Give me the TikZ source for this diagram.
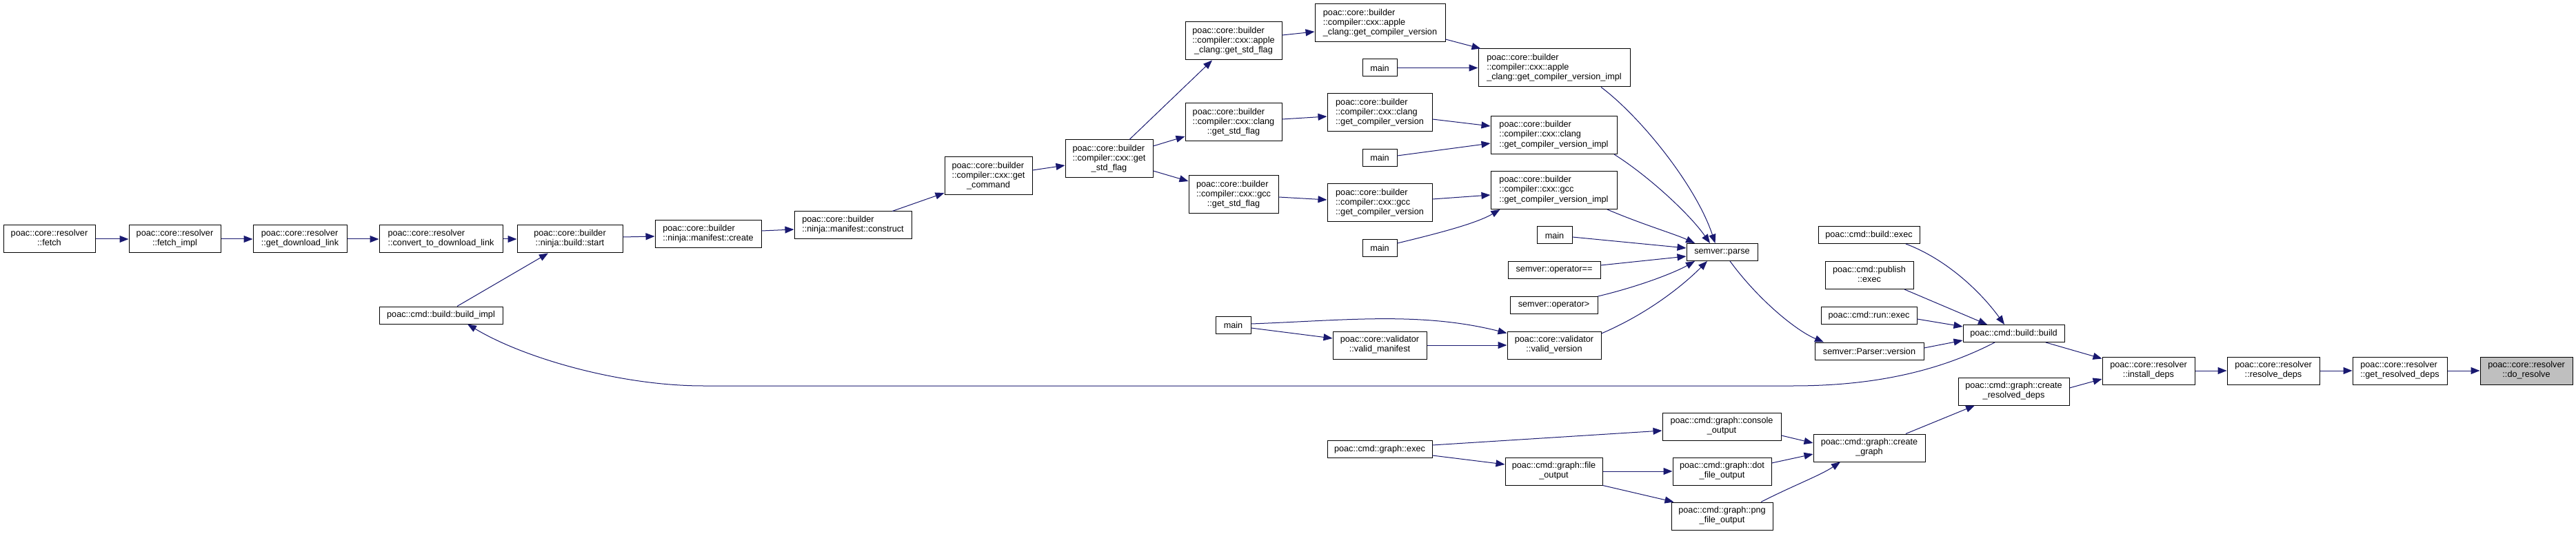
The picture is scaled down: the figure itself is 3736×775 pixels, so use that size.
\documentclass[tikz,border=0pt]{standalone}
\usepackage{fontspec}
\setmainfont{Liberation Sans}
\usetikzlibrary{arrows.meta}
\definecolor{edgec}{HTML}{191970}
\definecolor{hl}{HTML}{BFBFBF}
\newcommand\nfont{\fontsize{12.7}{14.2}\selectfont}
\newcommand\Lb[2]{\begin{tabular}{@{}l@{}}#1\\\multicolumn{1}{@{}c@{}}{#2}\end{tabular}}
\newcommand\Lc[3]{\begin{tabular}{@{}l@{}}#1\\#2\\\multicolumn{1}{@{}c@{}}{#3}\end{tabular}}
\begin{document}
\begin{tikzpicture}[x=1pt,y=-1pt,
  box/.style={draw=black,line width=1pt,fill=white,inner sep=0pt,font=\nfont},
  wh/.style 2 args={minimum width=#1pt,minimum height=#2pt},
  conn/.style={draw=edgec,line width=1pt,-{Triangle[length=13pt,width=10pt]}}]
\fill[white] (0,0) rectangle (3736,775);
\useasboundingbox (0,0) rectangle (3736,775);
% resolver chain
\node[box,wh={133}{40}] (fetch) at (71.5,347) {\Lb{poac::core::resolver}{::fetch}};
\node[box,wh={133}{40}] (fetchimpl) at (253.5,347) {\Lb{poac::core::resolver}{::fetch\_impl}};
\node[box,wh={136}{40}] (getdl) at (435,347) {\Lb{poac::core::resolver}{::get\_download\_link}};
\node[box,wh={179}{40}] (convert) at (639.5,347) {\Lb{poac::core::resolver}{::convert\_to\_download\_link}};
\node[box,wh={153}{40}] (start) at (826.5,347) {\Lb{poac::core::builder}{::ninja::build::start}};
\node[box,wh={179}{25}] (buildimpl) at (639.5,457.5) {poac::cmd::build::build\_impl};
\node[box,wh={154}{40}] (create) at (1027,340) {\Lb{poac::core::builder}{::ninja::manifest::create}};
\node[box,wh={170}{40}] (construct) at (1237,327) {\Lb{poac::core::builder}{::ninja::manifest::construct}};
\node[box,wh={127}{55}] (getcommand) at (1433.5,255.5) {\Lc{poac::core::builder}{::compiler::cxx::get}{\_command}};
\node[box,wh={127}{55}] (getstdflag) at (1608.5,230.5) {\Lc{poac::core::builder}{::compiler::cxx::get}{\_std\_flag}};
% compilers
\node[box,wh={140}{55}] (applestd) at (1789,59.5) {\Lc{poac::core::builder}{::compiler::cxx::apple}{\_clang::get\_std\_flag}};
\node[box,wh={189}{55}] (applegcv) at (2001.5,33.5) {\Lc{poac::core::builder}{::compiler::cxx::apple}{\_clang::get\_compiler\_version}};
\node[box,wh={50}{25}] (main1) at (2001,98.5) {main};
\node[box,wh={220}{55}] (appleimpl) at (2254,98.5) {\Lc{poac::core::builder}{::compiler::cxx::apple}{\_clang::get\_compiler\_version\_impl}};
\node[box,wh={140}{55}] (clangstd) at (1789,177.5) {\Lc{poac::core::builder}{::compiler::cxx::clang}{::get\_std\_flag}};
\node[box,wh={152}{55}] (clanggcv) at (2001,163.5) {\Lc{poac::core::builder}{::compiler::cxx::clang}{::get\_compiler\_version}};
\node[box,wh={183}{55}] (clangimpl) at (2253.5,196) {\Lc{poac::core::builder}{::compiler::cxx::clang}{::get\_compiler\_version\_impl}};
\node[box,wh={50}{25}] (main2) at (2001,229) {main};
\node[box,wh={130}{55}] (gccstd) at (1789,282.5) {\Lc{poac::core::builder}{::compiler::cxx::gcc}{::get\_std\_flag}};
\node[box,wh={152}{55}] (gccgcv) at (2001,294.5) {\Lc{poac::core::builder}{::compiler::cxx::gcc}{::get\_compiler\_version}};
\node[box,wh={183}{55}] (gccimpl) at (2253.5,276) {\Lc{poac::core::builder}{::compiler::cxx::gcc}{::get\_compiler\_version\_impl}};
\node[box,wh={50}{25}] (main3) at (2001,360) {main};
\node[box,wh={51}{25}] (main4) at (2254.5,341.5) {main};
\node[box,wh={134}{25}] (opeq) at (2254,392) {semver::operator==};
\node[box,wh={127}{25}] (opgt) at (2253.5,442.5) {semver::operator>};
\node[box,wh={51}{25}] (main5) at (1788.5,472) {main};
\node[box,wh={136}{40}] (validmanifest) at (2001,501) {\Lb{poac::core::validator}{::valid\_manifest}};
\node[box,wh={136}{40}] (validversion) at (2254,501) {\Lb{poac::core::validator}{::valid\_version}};
\node[box,wh={103}{25}] (parse) at (2497.5,366) {semver::parse};
\node[box,wh={158}{25}] (parserversion) at (2711,509.5) {semver::Parser::version};
% build
\node[box,wh={147}{25}] (buildexec) at (2710.5,341) {poac::cmd::build::exec};
\node[box,wh={128}{40}] (publishexec) at (2711,399.5) {\Lb{poac::cmd::publish}{::exec}};
\node[box,wh={139}{25}] (runexec) at (2710.5,458) {poac::cmd::run::exec};
\node[box,wh={147}{25}] (buildbuild) at (2920.5,484) {poac::cmd::build::build};
\node[box,wh={134}{40}] (installdeps) at (3116,538) {\Lb{poac::core::resolver}{::install\_deps}};
\node[box,wh={134}{40}] (resolvedeps) at (3297,538) {\Lb{poac::core::resolver}{::resolve\_deps}};
\node[box,wh={137}{40}] (getresolved) at (3480.5,538) {\Lb{poac::core::resolver}{::get\_resolved\_deps}};
\node[box,wh={134}{40},fill=hl] (doresolve) at (3664,538) {\Lb{poac::core::resolver}{::do\_resolve}};
% graph
\node[box,wh={161}{40}] (createresolved) at (2920.5,568) {\Lb{poac::cmd::graph::create}{\_resolved\_deps}};
\node[box,wh={172}{40}] (consoleout) at (2497,619) {\Lb{poac::cmd::graph::console}{\_output}};
\node[box,wh={162}{40}] (creategraph) at (2711,650) {\Lb{poac::cmd::graph::create}{\_graph}};
\node[box,wh={152}{25}] (graphexec) at (2001,652) {poac::cmd::graph::exec};
\node[box,wh={141}{40}] (fileoutput) at (2253.5,684) {\Lb{poac::cmd::graph::file}{\_output}};
\node[box,wh={143}{40}] (dotfile) at (2497.5,684) {\Lb{poac::cmd::graph::dot}{\_file\_output}};
\node[box,wh={147}{40}] (pngfile) at (2497.5,749) {\Lb{poac::cmd::graph::png}{\_file\_output}};
% edges
\draw[conn] (fetch.east) -- (fetchimpl.west);
\draw[conn] (fetchimpl.east) -- (getdl.west);
\draw[conn] (getdl.east) -- (convert.west);
\draw[conn] (convert.east) -- (start.west);
\draw[conn] ([shift={(23.5,0)}]buildimpl.north) -- ([shift={(-31.5,0)}]start.south);
\draw[conn] ([shift={(0,-3)}]start.east) -- ([shift={(0,3)}]create.west);
\draw[conn] ([shift={(0,-5)}]create.east) -- ([shift={(0,6)}]construct.west);
\draw[conn] ([shift={(57,0)}]construct.north) -- ([shift={(0,24.5)}]getcommand.west);
\draw[conn] ([shift={(0,-8.5)}]getcommand.east) -- ([shift={(0,9.5)}]getstdflag.west);
\draw[conn] ([shift={(29.5,0)}]getstdflag.north) -- ([shift={(-31,0)}]applestd.south);
\draw[conn] ([shift={(0,-18.5)}]getstdflag.east) -- ([shift={(0,20.5)}]clangstd.west);
\draw[conn] ([shift={(0,17.5)}]getstdflag.east) -- ([shift={(0,-19.5)}]gccstd.west);
\draw[conn] ([shift={(0,-8.5)}]applestd.east) -- ([shift={(0,12.5)}]applegcv.west);
\draw[conn] ([shift={(0,23.5)}]applegcv.east) -- ([shift={(4,0)}]appleimpl.north west);
\draw[conn] (main1.east) -- (appleimpl.west);
\draw[conn] ([shift={(0,-4.5)}]clangstd.east) -- ([shift={(0,5.5)}]clanggcv.west);
\draw[conn] ([shift={(0,9.5)}]clanggcv.east) -- ([shift={(0,-13)}]clangimpl.west);
\draw[conn] ([shift={(0,-3)}]main2.east) -- ([shift={(0,12)}]clangimpl.west);
\draw[conn] ([shift={(0,3.5)}]gccstd.east) -- ([shift={(0,-4.5)}]gccgcv.west);
\draw[conn] ([shift={(0,-5.5)}]gccgcv.east) -- ([shift={(0,7)}]gccimpl.west);
\draw[conn] ([shift={(0,-7)}]main3.east) .. controls (2080,340) and (2140,325) .. ([shift={(14,0)}]gccimpl.south west);
\draw[conn] ([shift={(68,0)}]appleimpl.south) .. controls (2380,170) and (2460,270) .. ([shift={(-10,0)}]parse.north);
\draw[conn] ([shift={(87.5,0)}]clangimpl.south) .. controls (2390,255) and (2450,310) .. ([shift={(-17.5,0)}]parse.north);
\draw[conn] ([shift={(77.5,0)}]gccimpl.south) .. controls (2380,325) and (2430,340) .. ([shift={(-39.5,0)}]parse.north);
\draw[conn] ([shift={(0,2.5)}]main4.east) -- ([shift={(0,-6)}]parse.west);
\draw[conn] ([shift={(0,-7)}]opeq.east) -- ([shift={(0,6)}]parse.west);
\draw[conn] ([shift={(0,-12.5)}]opgt.east) .. controls (2380,415) and (2430,395) .. ([shift={(-39.5,0)}]parse.south);
\draw[conn] ([shift={(0,-17)}]validversion.east) .. controls (2390,455) and (2440,415) .. ([shift={(-21.5,0)}]parse.south);
\draw[conn] ([shift={(0,-2)}]main5.east) .. controls (1950,465) and (2060,452) .. ([shift={(0,3)}]validversion.north west);
\draw[conn] ([shift={(0,4)}]main5.east) -- ([shift={(0,-10)}]validmanifest.west);
\draw[conn] (validmanifest.east) -- (validversion.west);
\draw[conn] ([shift={(11.5,0)}]parse.south) .. controls (2550,435) and (2605,480) .. ([shift={(-66,0)}]parserversion.north);
\draw[conn] ([shift={(53.5,0)}]buildexec.south) .. controls (2820,375) and (2870,420) .. ([shift={(-13.5,0)}]buildbuild.north);
\draw[conn] ([shift={(51,0)}]publishexec.south) -- ([shift={(-38.5,0)}]buildbuild.north);
\draw[conn] ([shift={(0,5)}]runexec.east) -- ([shift={(0,-10)}]buildbuild.west);
\draw[conn] ([shift={(0,-4.5)}]parserversion.east) -- ([shift={(0,10)}]buildbuild.west);
\draw[conn] ([shift={(-27.5,0)}]buildbuild.south) .. controls (2800,545) and (2700,560) .. (2600,560) -- (1020,560) .. controls (900,560) and (760,520) .. ([shift={(38.5,0)}]buildimpl.south);
\draw[conn] ([shift={(46.5,0)}]buildbuild.south) -- ([shift={(0,3)}]installdeps.north west);
\draw[conn] ([shift={(0,-5)}]createresolved.east) -- ([shift={(0,12)}]installdeps.west);
\draw[conn] (installdeps.east) -- (resolvedeps.west);
\draw[conn] (resolvedeps.east) -- (getresolved.west);
\draw[conn] (getresolved.east) -- (doresolve.west);
\draw[conn] ([shift={(53,0)}]creategraph.north) -- ([shift={(-56.5,0)}]createresolved.south);
\draw[conn] ([shift={(0,13)}]consoleout.east) -- ([shift={(0,-7)}]creategraph.west);
\draw[conn] ([shift={(0,-12)}]dotfile.east) -- ([shift={(0,9)}]creategraph.west);
\draw[conn] ([shift={(56.5,0)}]pngfile.north) .. controls (2600,705) and (2640,690) .. ([shift={(-42,0)}]creategraph.south);
\draw[conn] ([shift={(0,-6)}]graphexec.east) -- ([shift={(0,6)}]consoleout.west);
\draw[conn] ([shift={(0,9)}]graphexec.east) -- ([shift={(0,-10)}]fileoutput.west);
\draw[conn] (fileoutput.east) -- (dotfile.west);
\draw[conn] (fileoutput.south east) -- ([shift={(4,0)}]pngfile.north west);
\end{tikzpicture}
\end{document}
